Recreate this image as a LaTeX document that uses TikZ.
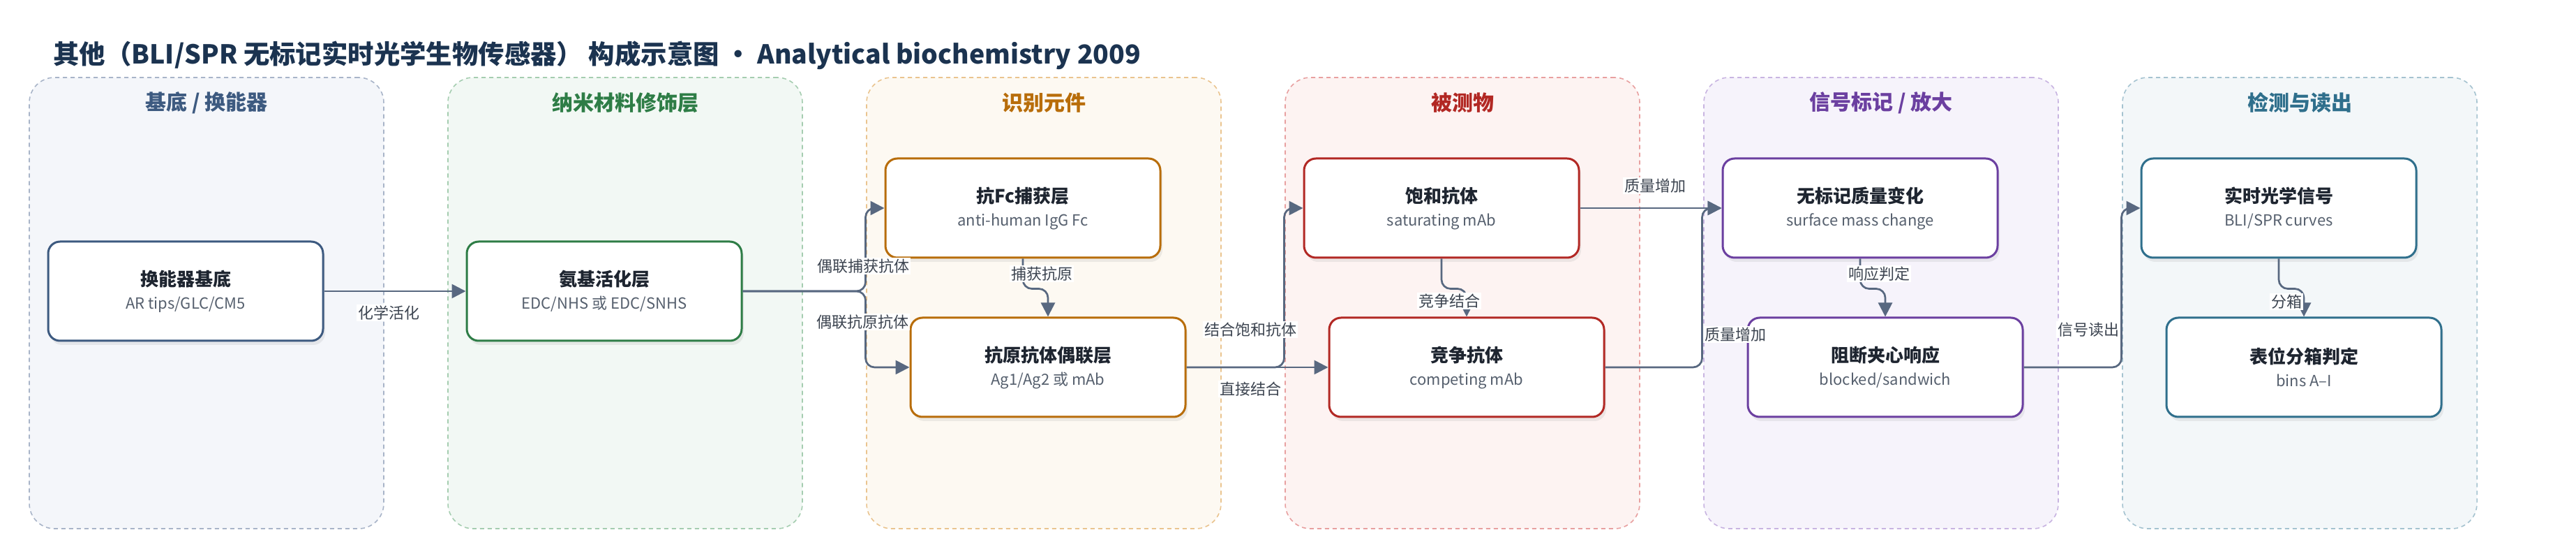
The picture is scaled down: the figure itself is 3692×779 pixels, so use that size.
\documentclass[tikz,border=0pt]{standalone}
\usepackage{fontspec}
\setmainfont{Noto Sans CJK SC}
\usetikzlibrary{arrows.meta,shadows,calc}

\definecolor{edgec}{RGB}{88,104,128}
\definecolor{titlec}{RGB}{27,51,80}
\definecolor{nodetxt}{RGB}{30,37,48}
\definecolor{subtxt}{RGB}{86,96,110}
\definecolor{labtxt}{RGB}{60,68,80}

\definecolor{cA}{RGB}{61,90,128}   \definecolor{fA}{RGB}{244,246,250} \definecolor{dA}{RGB}{168,180,200}
\definecolor{cB}{RGB}{46,125,70}   \definecolor{fB}{RGB}{242,248,244} \definecolor{dB}{RGB}{165,205,176}
\definecolor{cC}{RGB}{184,109,10}  \definecolor{fC}{RGB}{253,249,242} \definecolor{dC}{RGB}{234,196,143}
\definecolor{cD}{RGB}{178,40,36}   \definecolor{fD}{RGB}{253,243,242} \definecolor{dD}{RGB}{232,160,160}
\definecolor{cE}{RGB}{107,63,160}  \definecolor{fE}{RGB}{246,243,251} \definecolor{dE}{RGB}{200,180,225}
\definecolor{cF}{RGB}{47,111,140}  \definecolor{fF}{RGB}{243,247,249} \definecolor{dF}{RGB}{165,195,208}

\tikzset{
  panelbox/.style 2 args={draw=#1, fill=#2, line width=0.8pt, dash pattern=on 3pt off 2.5pt,
    rounded corners=18pt, minimum width=254pt, minimum height=323pt, inner sep=0pt},
  paneltitle/.style={font=\fontsize{15pt}{18pt}\selectfont\bfseries, text=#1, inner sep=0pt},
  card/.style={draw=#1, fill=white, line width=1.5pt, rounded corners=8.5pt,
    minimum width=197pt, minimum height=71pt, align=center, inner sep=0pt,
    text=subtxt, font=\fontsize{11pt}{16.5pt}\selectfont,
    drop shadow={opacity=0.13, shadow xshift=1.5pt, shadow yshift=-3pt}},
  conn/.style={draw=edgec, line width=1.35pt, -{Triangle[length=10pt,width=10pt]}, rounded corners=6.5pt},
  elabel/.style={fill=white, text=labtxt, font=\fontsize{11pt}{13pt}\selectfont, inner sep=1pt},
}
\newcommand{\cardtxt}[2]{{\fontsize{13pt}{16.5pt}\selectfont\bfseries\color{nodetxt}#1}\\#2}

\begin{document}
\begin{tikzpicture}[x=0.5pt,y=-0.5pt]
\useasboundingbox[fill=white] (0,0) rectangle (3692,779);

% title
\node[anchor=west, inner sep=0pt, text=titlec, font=\fontsize{18.7pt}{22pt}\selectfont\bfseries] (title) at (76,79)
  {其他（BLI/SPR 无标记实时光学生物传感器） 构成示意图 · Analytical biochemistry 2009};

% panels
\node[panelbox={dA}{fA}] (p1) at (296,434) {};
\node[panelbox={dB}{fB}] (p2) at (896,434) {};
\node[panelbox={dC}{fC}] (p3) at (1496,434) {};
\node[panelbox={dD}{fD}] (p4) at (2096,434) {};
\node[panelbox={dE}{fE}] (p5) at (2696,434) {};
\node[panelbox={dF}{fF}] (p6) at (3296,434) {};

\node[paneltitle=cA] (h1) at (296,147) {基底 / 换能器};
\node[paneltitle=cB] (h2) at (896,147) {纳米材料修饰层};
\node[paneltitle=cC] (h3) at (1496,147) {识别元件};
\node[paneltitle=cD] (h4) at (2096,147) {被测物};
\node[paneltitle=cE] (h5) at (2696,147) {信号标记 / 放大};
\node[paneltitle=cF] (h6) at (3296,147) {检测与读出};

% cards
\node[card=cA] (n1) at (266,417) {\cardtxt{换能器基底}{AR tips/GLC/CM5}};
\node[card=cB] (n2) at (866,417) {\cardtxt{氨基活化层}{EDC/NHS 或 EDC/SNHS}};
\node[card=cC] (t3) at (1466,298) {\cardtxt{抗Fc捕获层}{anti-human IgG Fc}};
\node[card=cC] (b3) at (1502,526) {\cardtxt{抗原抗体偶联层}{Ag1/Ag2 或 mAb}};
\node[card=cD] (t4) at (2066,298) {\cardtxt{饱和抗体}{saturating mAb}};
\node[card=cD] (b4) at (2102,526) {\cardtxt{竞争抗体}{competing mAb}};
\node[card=cE] (t5) at (2666,298) {\cardtxt{无标记质量变化}{surface mass change}};
\node[card=cE] (b5) at (2702,526) {\cardtxt{阻断夹心响应}{blocked/sandwich}};
\node[card=cF] (t6) at (3266,298) {\cardtxt{实时光学信号}{BLI/SPR curves}};
\node[card=cF] (b6) at (3302,526) {\cardtxt{表位分箱判定}{bins A–I}};

% connectors
\draw[conn] (n1.east) -- (n2.west);
\draw[conn] (n2.east) -| ([xshift=-13.5pt]t3.west) -- (t3.west);
\draw[conn] (n2.east) -| ([xshift=-31.5pt]b3.west) -- (b3.west);
\draw[conn] (t3.south) -- ++(0,43) -| (b3.north);
\draw[conn] (b3.east) -| ([xshift=-13.5pt]t4.west) -- (t4.west);
\draw[conn] (b3.east) -- (b4.west);
\draw[conn] (t4.south) -- ++(0,43) -| (b4.north);
\draw[conn] (t4.east) -- (t5.west);
\draw[conn] (b4.east) -| ([xshift=-14pt]t5.west) -- (t5.west);
\draw[conn] (t5.south) -- ++(0,43) -| (b5.north);
\draw[conn] (b5.east) -| ([xshift=-13.5pt]t6.west) -- (t6.west);
\draw[conn] (t6.south) -- ++(0,43) -| (b6.north);

% connector labels
\node[elabel] (l1) at (557,448) {化学活化};
\node[elabel] (l2) at (1237,381) {偶联捕获抗体};
\node[elabel] (l3) at (1236,461) {偶联抗原抗体};
\node[elabel] (l4) at (1493,392) {捕获抗原};
\node[elabel] (l5) at (1792,472) {结合饱和抗体};
\node[elabel] (l6) at (1792,557) {直接结合};
\node[elabel] (l7) at (2077,431) {竞争结合};
\node[elabel] (l8) at (2372,266) {质量增加};
\node[elabel] (l9) at (2487,479) {质量增加};
\node[elabel] (l10) at (2693,392) {响应判定};
\node[elabel] (l11) at (2993,472) {信号读出};
\node[elabel] (l12) at (3277,432) {分箱};
\end{tikzpicture}
\end{document}
